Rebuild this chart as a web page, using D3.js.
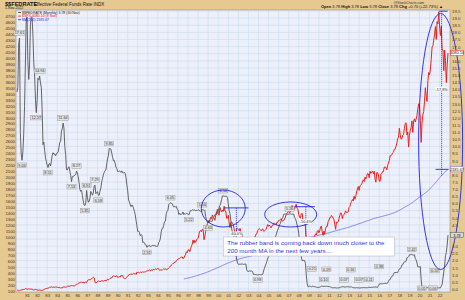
<!DOCTYPE html>
<html>
<meta charset="utf-8">
<head>
<script src="https://cdnjs.cloudflare.com/ajax/libs/d3/7.8.5/d3.min.js"></script>
<style>
  body { margin: 0; background: #e6c991; }
  text { font-family: Arial, "Liberation Sans", sans-serif; }
</style>
</head>
<body>
<script>
const W = 465, H = 300;
const startYear = 1980;

// $$FEDRATE monthly, Jan 1980 .. Nov 2022
const fedRate = [
  13.82, 14.13, 17.19, 17.61, 10.98, 9.47, 9.03, 9.61, 10.87, 12.81, 15.85, 18.90,
  19.08, 15.93, 14.70, 15.72, 18.52, 19.10, 19.04, 17.82, 15.87, 15.08, 13.31, 12.37,
  13.22, 14.78, 14.68, 14.94, 14.45, 14.15, 12.59, 10.12, 10.31, 9.71, 9.20, 8.95,
  8.68, 8.51, 8.77, 8.80, 8.63, 8.98, 9.37, 9.56, 9.45, 9.48, 9.34, 9.47,
  9.56, 9.59, 9.91, 10.29, 10.32, 11.06, 11.23, 11.64, 11.30, 9.99, 9.43, 8.38,
  8.35, 8.50, 8.58, 8.27, 7.97, 7.53, 7.88, 7.90, 7.92, 7.99, 8.05, 8.27,
  8.14, 7.86, 7.48, 6.99, 6.85, 6.92, 6.56, 6.17, 5.89, 5.85, 6.04, 6.91,
  6.43, 6.10, 6.13, 6.37, 6.85, 6.73, 6.58, 6.73, 7.22, 7.29, 6.69, 6.77,
  6.83, 6.58, 6.58, 6.87, 7.09, 7.51, 7.75, 8.01, 8.19, 8.30, 8.35, 8.76,
  9.12, 9.36, 9.85, 9.84, 9.81, 9.53, 9.24, 8.99, 9.02, 8.84, 8.55, 8.45,
  8.23, 8.24, 8.28, 8.26, 8.18, 8.29, 8.15, 8.13, 8.20, 8.11, 7.81, 7.31,
  6.91, 6.25, 6.12, 5.91, 5.78, 5.90, 5.82, 5.66, 5.45, 5.21, 4.81, 4.43,
  4.03, 4.06, 3.98, 3.73, 3.82, 3.76, 3.25, 3.30, 3.22, 3.10, 3.09, 2.92,
  3.02, 3.03, 3.07, 2.96, 3.00, 3.04, 3.06, 3.03, 3.09, 2.99, 3.02, 2.96,
  3.05, 3.25, 3.34, 3.56, 4.01, 4.25, 4.26, 4.47, 4.73, 4.76, 5.29, 5.45,
  5.53, 5.92, 5.98, 6.05, 6.01, 6.00, 5.85, 5.74, 5.80, 5.76, 5.80, 5.60,
  5.56, 5.22, 5.31, 5.22, 5.24, 5.27, 5.40, 5.22, 5.30, 5.24, 5.31, 5.29,
  5.25, 5.19, 5.39, 5.51, 5.50, 5.56, 5.52, 5.54, 5.54, 5.50, 5.52, 5.50,
  5.56, 5.51, 5.49, 5.45, 5.49, 5.56, 5.54, 5.55, 5.51, 5.07, 4.83, 4.68,
  4.63, 4.76, 4.81, 4.74, 4.74, 4.76, 4.99, 5.07, 5.22, 5.20, 5.42, 5.30,
  5.45, 5.73, 5.85, 6.02, 6.27, 6.53, 6.54, 6.50, 6.52, 6.51, 6.51, 6.40,
  5.98, 5.49, 5.31, 4.80, 4.21, 3.97, 3.77, 3.65, 3.07, 2.49, 2.09, 1.82,
  1.73, 1.74, 1.73, 1.75, 1.75, 1.75, 1.73, 1.74, 1.75, 1.75, 1.34, 1.24,
  1.24, 1.26, 1.25, 1.26, 1.26, 1.22, 1.01, 1.03, 1.01, 1.01, 1.00, 0.98,
  1.00, 1.01, 1.00, 1.00, 1.00, 1.03, 1.26, 1.43, 1.61, 1.76, 1.93, 2.16,
  2.28, 2.50, 2.63, 2.79, 3.00, 3.04, 3.26, 3.50, 3.62, 3.78, 4.00, 4.16,
  4.29, 4.49, 4.59, 4.79, 4.94, 4.99, 5.24, 5.25, 5.25, 5.25, 5.25, 5.24,
  5.25, 5.26, 5.26, 5.25, 5.25, 5.25, 5.26, 5.02, 4.94, 4.76, 4.49, 4.24,
  3.94, 2.98, 2.61, 2.28, 1.98, 2.00, 2.01, 2.00, 1.81, 0.97, 0.39, 0.16,
  0.15, 0.22, 0.18, 0.15, 0.18, 0.21, 0.16, 0.16, 0.15, 0.12, 0.12, 0.12,
  0.11, 0.13, 0.16, 0.20, 0.20, 0.18, 0.18, 0.19, 0.19, 0.19, 0.19, 0.18,
  0.17, 0.16, 0.14, 0.10, 0.09, 0.09, 0.07, 0.10, 0.08, 0.07, 0.08, 0.07,
  0.08, 0.10, 0.13, 0.14, 0.16, 0.16, 0.16, 0.13, 0.14, 0.16, 0.16, 0.16,
  0.14, 0.15, 0.14, 0.15, 0.11, 0.09, 0.09, 0.08, 0.08, 0.09, 0.08, 0.09,
  0.07, 0.07, 0.08, 0.09, 0.09, 0.10, 0.09, 0.09, 0.09, 0.09, 0.09, 0.12,
  0.11, 0.11, 0.11, 0.12, 0.12, 0.13, 0.13, 0.14, 0.14, 0.12, 0.12, 0.24,
  0.34, 0.38, 0.36, 0.37, 0.37, 0.38, 0.39, 0.40, 0.40, 0.40, 0.41, 0.54,
  0.65, 0.66, 0.79, 0.90, 0.91, 1.04, 1.15, 1.16, 1.15, 1.15, 1.16, 1.30,
  1.41, 1.42, 1.51, 1.69, 1.70, 1.82, 1.91, 1.91, 1.95, 2.19, 2.20, 2.27,
  2.40, 2.40, 2.41, 2.42, 2.39, 2.38, 2.40, 2.13, 2.04, 1.83, 1.55, 1.55,
  1.55, 1.58, 0.65, 0.05, 0.05, 0.08, 0.09, 0.10, 0.09, 0.09, 0.09, 0.09,
  0.09, 0.08, 0.07, 0.07, 0.06, 0.08, 0.10, 0.09, 0.08, 0.08, 0.08, 0.08,
  0.08, 0.08, 0.20, 0.33, 0.77, 1.21, 1.68, 2.33, 2.56, 3.08, 3.78
];

// $SPX monthly close, Jan 1980 .. Nov 2022
const spx = [
  114.16, 113.66, 102.09, 106.29, 111.24, 114.24, 121.67, 122.38, 125.46, 127.47, 140.52, 135.76,
  129.55, 131.27, 136.00, 132.81, 132.59, 131.21, 130.92, 122.79, 116.18, 121.89, 126.35, 122.55,
  120.40, 113.11, 111.96, 116.44, 111.88, 109.61, 107.09, 119.51, 120.42, 133.71, 138.54, 140.64,
  145.30, 148.06, 152.96, 164.42, 162.39, 168.11, 162.56, 164.40, 166.07, 163.55, 166.40, 164.93,
  163.41, 157.06, 159.18, 160.05, 150.55, 153.18, 150.66, 166.68, 166.10, 166.09, 163.58, 167.24,
  179.63, 181.18, 180.66, 179.83, 189.55, 191.85, 190.92, 188.63, 182.08, 189.82, 202.17, 211.28,
  211.78, 226.92, 238.90, 235.52, 247.35, 250.84, 236.12, 252.93, 231.32, 243.98, 249.22, 242.17,
  274.08, 284.20, 291.70, 288.36, 290.10, 304.00, 318.66, 329.80, 321.83, 251.79, 230.30, 247.08,
  257.07, 267.82, 258.89, 261.33, 262.16, 273.50, 272.02, 261.52, 271.91, 278.97, 273.70, 277.72,
  297.47, 288.86, 294.87, 309.64, 320.52, 317.98, 346.08, 351.45, 349.15, 340.36, 345.99, 353.40,
  329.08, 331.89, 339.94, 330.80, 361.23, 358.02, 356.15, 322.56, 306.05, 304.00, 322.22, 330.22,
  343.93, 367.07, 375.22, 375.34, 389.83, 371.16, 387.81, 395.43, 387.86, 392.46, 375.22, 417.09,
  408.79, 412.70, 403.69, 414.95, 415.35, 408.14, 424.21, 414.03, 417.80, 418.68, 431.35, 435.71,
  438.78, 443.38, 451.67, 440.19, 450.19, 450.53, 448.13, 463.56, 458.93, 467.83, 461.79, 466.45,
  481.61, 467.14, 445.77, 450.91, 456.50, 444.27, 458.26, 475.49, 462.69, 472.35, 453.69, 459.27,
  470.42, 487.39, 500.71, 514.71, 533.40, 544.75, 562.06, 561.88, 584.41, 581.50, 605.37, 615.93,
  636.02, 640.43, 645.50, 654.17, 669.12, 670.63, 639.95, 651.99, 687.33, 705.27, 757.02, 740.74,
  786.16, 790.82, 757.12, 801.34, 848.28, 885.14, 954.29, 899.47, 947.28, 914.62, 955.40, 970.43,
  980.28, 1049.34, 1101.75, 1111.75, 1090.82, 1133.84, 1120.67, 957.28, 1017.01, 1098.67, 1163.63, 1229.23,
  1279.64, 1238.33, 1286.37, 1335.18, 1301.84, 1372.71, 1328.72, 1320.41, 1282.71, 1362.93, 1388.91, 1469.25,
  1394.46, 1366.42, 1498.58, 1452.43, 1420.60, 1454.60, 1430.83, 1517.68, 1436.51, 1429.40, 1314.95, 1320.28,
  1366.01, 1239.94, 1160.33, 1249.46, 1255.82, 1224.38, 1211.23, 1133.58, 1040.94, 1059.78, 1139.45, 1148.08,
  1130.20, 1106.73, 1147.39, 1076.92, 1067.14, 989.82, 911.62, 916.07, 815.28, 885.76, 936.31, 879.82,
  855.70, 841.15, 848.18, 916.92, 963.59, 974.50, 990.31, 1008.01, 995.97, 1050.71, 1058.20, 1111.92,
  1131.13, 1144.94, 1126.21, 1107.30, 1120.68, 1140.84, 1101.72, 1104.24, 1114.58, 1130.20, 1173.82, 1211.92,
  1181.27, 1203.60, 1180.59, 1156.85, 1191.50, 1191.33, 1234.18, 1220.33, 1228.81, 1207.01, 1249.48, 1248.29,
  1280.08, 1280.66, 1294.83, 1310.61, 1270.09, 1270.20, 1276.66, 1303.82, 1335.85, 1377.94, 1400.63, 1418.30,
  1438.24, 1406.82, 1420.86, 1482.37, 1530.62, 1503.35, 1455.27, 1473.99, 1526.75, 1549.38, 1481.14, 1468.36,
  1378.55, 1330.63, 1322.70, 1385.59, 1400.38, 1280.00, 1267.38, 1282.83, 1166.36, 968.75, 896.24, 903.25,
  825.88, 735.09, 797.87, 872.81, 919.14, 919.32, 987.48, 1020.62, 1057.08, 1036.19, 1095.63, 1115.10,
  1073.87, 1104.49, 1169.43, 1186.69, 1089.41, 1030.71, 1101.60, 1049.33, 1141.20, 1183.26, 1180.55, 1257.64,
  1286.12, 1327.22, 1325.83, 1363.61, 1345.20, 1320.64, 1292.28, 1218.89, 1131.42, 1253.30, 1246.96, 1257.60,
  1312.41, 1365.68, 1408.47, 1397.91, 1310.33, 1362.16, 1379.32, 1406.58, 1440.67, 1412.16, 1416.18, 1426.19,
  1498.11, 1514.68, 1569.19, 1597.57, 1630.74, 1606.28, 1685.73, 1632.97, 1681.55, 1756.54, 1805.81, 1848.36,
  1782.59, 1859.45, 1872.34, 1883.95, 1923.57, 1960.23, 1930.67, 2003.37, 1972.29, 2018.05, 2067.56, 2058.90,
  1994.99, 2104.50, 2067.89, 2085.51, 2107.39, 2063.11, 2103.84, 1972.18, 1920.03, 2079.36, 2080.41, 2043.94,
  1940.24, 1932.23, 2059.74, 2065.30, 2096.95, 2098.86, 2173.60, 2170.95, 2168.27, 2126.15, 2198.81, 2238.83,
  2278.87, 2363.64, 2362.72, 2384.20, 2411.80, 2423.41, 2470.30, 2471.65, 2519.36, 2575.26, 2647.58, 2673.61,
  2823.81, 2713.83, 2640.87, 2648.05, 2705.27, 2718.37, 2816.29, 2901.52, 2913.98, 2711.74, 2760.17, 2506.85,
  2704.10, 2784.49, 2834.40, 2945.83, 2752.06, 2941.76, 2980.38, 2926.46, 2976.74, 3037.56, 3140.98, 3230.78,
  3225.52, 2954.22, 2584.59, 2912.43, 3044.31, 3100.29, 3271.12, 3500.31, 3363.00, 3269.96, 3621.63, 3756.07,
  3714.24, 3811.15, 3972.89, 4181.17, 4204.11, 4297.50, 4395.26, 4522.68, 4307.54, 4605.38, 4567.00, 4766.18,
  4515.55, 4373.94, 4530.41, 4131.93, 4132.15, 3785.38, 4130.29, 3955.00, 3585.62, 3871.98, 4080.10
];

const maPeriod = 200;
const leftTicks = d3.range(100, 4800, 100);
const rightTicks = d3.range(0, 19.75, 0.5);
const yearTicks = d3.range(1981, 2023);

// labelled turning points of the fed rate: [year, month, text, placement]
// a = above, b = below, lo / hi = lower / upper row in the flat zero band
const rateLabels = [
  [1980, 4, "17.61", "a"], [1980, 7, "9.03", "b"], [1981, 12, "12.37", "b"], [1982, 4, "14.94", "a"],
  [1983, 2, "8.51", "b"], [1984, 8, "11.64", "a"], [1985, 6, "7.53", "b"], [1985, 12, "8.27", "a"],
  [1986, 10, "5.85", "b"], [1986, 12, "6.91", "a"], [1987, 10, "7.29", "a"], [1988, 2, "6.58", "b"],
  [1989, 3, "9.85", "a"], [1992, 12, "2.92", "b"], [1995, 4, "6.05", "a"], [1997, 2, "5.22", "b"],
  [1998, 6, "5.56", "a"], [1999, 1, "4.63", "b"], [2000, 7, "6.54", "a"], [2003, 12, "0.98", "b"],
  [2007, 2, "5.26", "a"], [2009, 5, "0.21", "hi"], [2010, 7, "0.10", "lo"], [2010, 10, "0.19", "hi"],
  [2012, 7, "0.07", "lo"], [2013, 3, "0.16", "hi"], [2014, 1, "0.07", "lo"], [2015, 1, "0.11", "lo"],
  [2016, 1, "0.38", "hi"], [2019, 4, "2.42", "a"], [2020, 4, "0.05", "bot"],
  [2021, 5, "0.06", "bot"], [2021, 7, "0.10", "hi"]
];

const t = i => startYear + i / 12;
const ym = (y, m) => y + (m - 1) / 12;

const plot = { l: 16, r: 450, t: 10, b: 292 };
const x = d3.scaleLinear().domain([1980, ym(2022, 11)]).range([17, 448]);
const yL = d3.scaleLinear().domain([100, 4700]).range([291, 16]);
const yR = d3.scaleLinear().domain([0, 19.5]).range([289, 11]);

// 200 month simple moving average of SPX
const ma = spx.map((d, i) => i < maPeriod - 1 ? null : d3.mean(spx.slice(i - maPeriod + 1, i + 1)));

const svg = d3.select("body").append("svg").attr("width", W).attr("height", H);
svg.append("rect").attr("width", W).attr("height", H).attr("fill", "#e6c991");

svg.append("defs").append("clipPath").attr("id", "clip")
  .append("rect").attr("x", plot.l).attr("y", plot.t)
  .attr("width", plot.r - plot.l).attr("height", plot.b - plot.t);

svg.append("rect")
  .attr("x", plot.l).attr("y", plot.t)
  .attr("width", plot.r - plot.l).attr("height", plot.b - plot.t)
  .attr("fill", "#edf0fa");

// grid
const grid = svg.append("g").attr("clip-path", "url(#clip)").attr("stroke", "#c6dbee").attr("stroke-width", 0.6);
grid.selectAll(".gx").data(yearTicks).enter().append("line")
  .attr("x1", d => x(d)).attr("x2", d => x(d)).attr("y1", plot.t).attr("y2", plot.b);
grid.selectAll(".gy").data(rightTicks).enter().append("line")
  .attr("x1", plot.l).attr("x2", plot.r).attr("y1", d => yR(d)).attr("y2", d => yR(d));

svg.append("rect")
  .attr("x", plot.l).attr("y", plot.t)
  .attr("width", plot.r - plot.l).attr("height", plot.b - plot.t)
  .attr("fill", "none").attr("stroke", "#8f8f8f").attr("stroke-width", 0.6);

// last values shown in boxes on the right axis
const lastBoxes = [
  { y: yL(spx[spx.length - 1]), txt: "4080.10", stroke: "#e8231e", fill: "#fff" },
  { y: yL(ma[ma.length - 1]), txt: "2185.67", stroke: "#6b6be8", fill: "#fff" },
  { y: yR(fedRate[fedRate.length - 1]), txt: "3.78", stroke: "#555", fill: "#d9d9d9" }
];
// right axis ticks hidden behind a value box
const hidden = v => lastBoxes.some(b => Math.abs(yR(v) - b.y) < 4.5);

// axes
const styleAxis = g => {
  g.select(".domain").remove();
  g.selectAll("text").attr("font-size", "4.3px").attr("fill", "#333");
};
svg.append("g").attr("transform", `translate(${plot.l},0)`)
  .call(d3.axisLeft(yL).tickValues(leftTicks).tickSize(0).tickPadding(1).tickFormat(d3.format("d")))
  .call(styleAxis);
svg.append("g").attr("transform", `translate(${plot.r},0)`)
  .call(d3.axisRight(yR).tickValues(rightTicks.filter(v => !hidden(v))).tickSize(0).tickPadding(2).tickFormat(d3.format(".1f")))
  .call(styleAxis);
svg.append("g").attr("transform", `translate(0,${plot.b})`)
  .call(d3.axisBottom(x).tickValues(yearTicks).tickSize(0).tickPadding(2).tickFormat(d => String(d).slice(2)))
  .call(styleAxis);

// series
const lines = svg.append("g").attr("clip-path", "url(#clip)").attr("fill", "none");
lines.append("path").datum(ma)
  .attr("d", d3.line().defined(d => d !== null).x((d, i) => x(t(i))).y(d => yL(d)))
  .attr("stroke", "#6b6be8").attr("stroke-width", 0.8);
lines.append("path").datum(spx)
  .attr("d", d3.line().x((d, i) => x(t(i))).y(d => yL(d)))
  .attr("stroke", "#e8231e").attr("stroke-width", 1);
lines.append("path").datum(fedRate)
  .attr("d", d3.line().x((d, i) => x(t(i))).y(d => yR(d)))
  .attr("stroke", "#555").attr("stroke-width", 0.9);

// value labels on the fed rate line
const offsets = { a: -5, b: 5, lo: -8, hi: -17, bot: 0 };
const lab = svg.append("g");
rateLabels.forEach(([yy, mm, txt, pos]) => {
  const cx = x(ym(yy, mm)), cy = yR(+txt) + offsets[pos];
  const w = txt.length * 1.9 + 1.5;
  lab.append("rect").attr("x", cx - w / 2).attr("y", cy - 2.3).attr("width", w).attr("height", 4.6)
    .attr("fill", "#e4e4e6").attr("stroke", "#8a8a8a").attr("stroke-width", 0.4);
  lab.append("text").attr("x", cx).attr("y", cy + 1.4).attr("text-anchor", "middle")
    .attr("font-size", "3.8px").attr("fill", "#333").text(txt);
});

// annotations
const blue = "#2323e6";
const ann = svg.append("g").attr("fill", "none").attr("stroke", blue).attr("stroke-width", 0.9);
ann.append("ellipse").attr("cx", x(2000.5)).attr("cy", yL(1480)).attr("rx", 22).attr("ry", 18.5);
ann.append("ellipse").attr("cx", x(2007.2)).attr("cy", yL(1380)).attr("rx", 26).attr("ry", 12.5);
ann.append("ellipse").attr("cx", x(2022.1)).attr("cy", yL(2600)).attr("rx", 22).attr("ry", 128);

const maAt = yr => ma[Math.min(ma.length - 1, Math.round((yr - startYear) * 12))];
const drop = [
  { x1: 2000.6, x2: 2003.0, xv: 2001.8, top: 1490, pct: "-60.0%", dy: 26 },
  { x1: 2007.6, x2: 2009.6, xv: 2008.7, top: 1510, pct: "-50.4%", dy: 15 },
  { x1: 2021.9, x2: 2022.8, xv: 2022.2, top: 4780, pct: "-57.8%", dy: 78 }
];
drop.forEach(d => {
  ann.append("line").attr("x1", x(d.x1)).attr("x2", x(d.x2)).attr("y1", yL(d.top)).attr("y2", yL(d.top));
  ann.append("line").attr("x1", x(d.xv)).attr("x2", x(d.xv)).attr("y1", yL(d.top)).attr("y2", yL(maAt(d.xv)))
    .attr("stroke-dasharray", "1,1");
});
// horizontal marker at the MA under the 2022 top
ann.append("line").attr("x1", x(2021.6)).attr("x2", x(2022.9))
  .attr("y1", yL(maAt(2023))).attr("y2", yL(maAt(2023)));

drop.forEach(d => {
  const my = yL(d.top) + d.dy;
  svg.append("rect").attr("x", x(d.xv) - 6).attr("y", my - 2.4).attr("width", 12).attr("height", 4.6)
    .attr("fill", "#fff");
  svg.append("text").attr("x", x(d.xv)).attr("y", my + 1.4).attr("text-anchor", "middle")
    .attr("font-size", "3.8px").attr("fill", "#222").text(d.pct);
});

// comment box
const bx = x(2000.5), by = 237;
svg.append("rect").attr("x", bx).attr("y", by).attr("width", 171).attr("height", 19)
  .attr("fill", "#fff").attr("stroke", "#b8b8c8").attr("stroke-width", 0.6);
svg.append("text").attr("x", bx + 4).attr("y", by + 7.5).attr("font-size", "6.2px").attr("fill", "#3434d8")
  .text("The rubber band is coming back down much closer to the");
svg.append("text").attr("x", bx + 4).attr("y", by + 15.5).attr("font-size", "6.2px").attr("fill", "#3434d8")
  .text("200 month MA in the next few years....");

lastBoxes.forEach(b => {
  svg.append("rect").attr("x", plot.r + 0.5).attr("y", b.y - 2.5).attr("width", 13).attr("height", 5)
    .attr("fill", b.fill).attr("stroke", b.stroke).attr("stroke-width", 0.5);
  svg.append("text").attr("x", plot.r + 7).attr("y", b.y + 1.4).attr("text-anchor", "middle")
    .attr("font-size", "3.8px").attr("fill", "#222").text(b.txt);
});

// legend
const legend = [
  { txt: "$$FEDRATE (Monthly) 3.78 (30 Nov)", color: "#222", mark: "#333" },
  { txt: "$SPX 4080.10 (8 Nov)", color: "#d8201c", mark: "#e8231e" },
  { txt: "MA(200) 2185.67", color: "#2a2ad0", mark: "#2a2ad0" }
];
legend.forEach((d, i) => {
  const ly = 13.5 + i * 3.6;
  svg.append("line").attr("x1", 18).attr("x2", 21).attr("y1", ly - 1).attr("y2", ly - 1)
    .attr("stroke", d.mark).attr("stroke-width", 0.8);
  svg.append("text").attr("x", 22).attr("y", ly).attr("font-size", "3.5px").attr("fill", d.color).text(d.txt);
});

// header
svg.append("text").attr("x", 5).attr("y", 5.5).attr("font-size", "5.6px").attr("font-weight", "bold")
  .attr("fill", "#111").text("$$FEDRATE");
svg.append("text").attr("x", 34).attr("y", 5.5).attr("font-size", "4.5px").attr("fill", "#111")
  .text("Effective Federal Funds Rate INDX");
svg.append("text").attr("x", 5).attr("y", 9.3).attr("font-size", "3.5px").attr("fill", "#111").text("1-Nov-2022");
svg.append("text").attr("x", 424).attr("y", 4).attr("text-anchor", "end").attr("font-size", "3.5px")
  .attr("fill", "#333").text("@StockCharts.com");

const ohlc = [["Open", "3.78"], ["High", "3.78"], ["Low", "3.78"], ["Close", "3.78"], ["Chg", "+0.70 (+22.73%) \u25B2"]];
const head = svg.append("text").attr("x", 321).attr("y", 8.2).attr("font-size", "4px").attr("fill", "#111");
ohlc.forEach(([k, v]) => {
  head.append("tspan").attr("font-weight", "bold").text(k + " ");
  head.append("tspan").text(v + "  ");
});
</script>
</body>
</html>
